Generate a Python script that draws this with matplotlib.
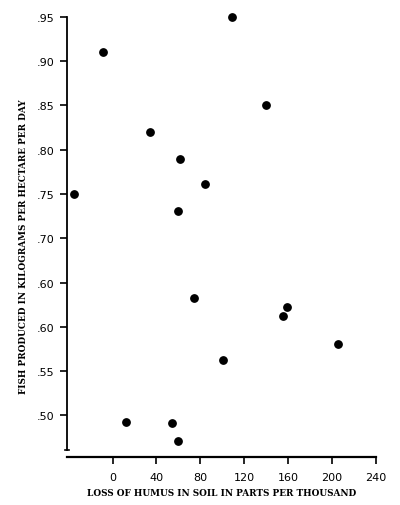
import matplotlib
matplotlib.use('Agg')
import matplotlib.pyplot as plt

# humus loss (parts per thousand) vs fish produced (kg / ha / day)
humus_loss = [-8.5, -35, 109, 140, 34, 61, 84, 60, 74, 159, 155, 205, 101, 12, 54, 60]
fish_yield = [0.910, 0.750, 0.950, 0.850, 0.820, 0.790, 0.761, 0.731, 0.633,
              0.622, 0.612, 0.581, 0.562, 0.492, 0.491, 0.471]

x_ticks = [0, 40, 80, 120, 160, 200, 240]
y_ticks = [0.95, 0.90, 0.85, 0.80, 0.75, 0.70, 0.65, 0.60, 0.55, 0.50]
# labels as printed in the original (".65" appears as ".60")
y_tick_labels = ['.95', '.90', '.85', '.80', '.75', '.70', '.60', '.60', '.55', '.50']

fig = plt.figure(figsize=(4.0, 5.06), dpi=100)
ax = fig.add_axes([0.1675, 0.0949, 0.7725, 0.8696])

ax.scatter(humus_loss, fish_yield, s=28, color='black', zorder=3, clip_on=False)

ax.set_xlim(-41.5, 240)
ax.set_ylim(0.453, 0.95)

ax.set_xticks(x_ticks)
ax.set_xticklabels([str(t) for t in x_ticks])
ax.set_yticks(y_ticks)
ax.set_yticklabels(y_tick_labels)

for lab in ax.get_xticklabels() + ax.get_yticklabels():
    lab.set_fontfamily('DejaVu Sans')
    lab.set_fontsize(8)

ax.tick_params(axis='both', direction='out', length=5, width=1.2, color='black')
ax.tick_params(axis='x', pad=6)
ax.tick_params(axis='y', pad=4)

for side in ['top', 'right']:
    ax.spines[side].set_visible(False)
ax.spines['left'].set_linewidth(1.3)
ax.spines['bottom'].set_linewidth(1.6)
ax.spines['left'].set_bounds(0.461, 0.95)

# small axis break mark at the corner
ax.plot([-43.5, -39.5], [0.461, 0.461], color='black', lw=1.2, clip_on=False)

ax.set_xlabel('LOSS OF HUMUS IN SOIL IN PARTS PER THOUSAND',
              fontfamily='DejaVu Serif', fontweight='bold', fontsize=6.4)
ax.set_ylabel('FISH PRODUCED IN KILOGRAMS PER HECTARE PER DAY',
              fontfamily='DejaVu Serif', fontweight='bold', fontsize=6.4)
ax.yaxis.set_label_coords(-0.125, 0.48)
ax.xaxis.set_label_coords(0.5, -0.07)

fig.savefig('out.png', dpi=100)
